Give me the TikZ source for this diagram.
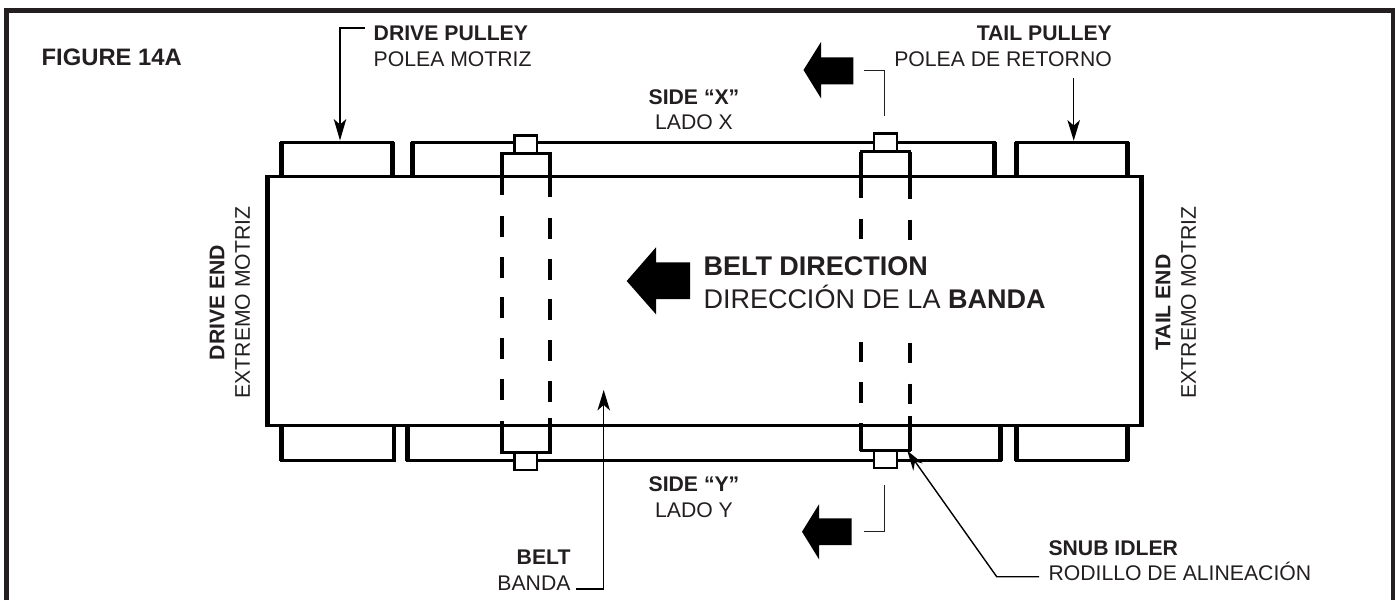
\documentclass[tikz,border=0pt]{standalone}
\usepackage{fontspec}
\setmainfont{Liberation Sans}
\definecolor{ink}{HTML}{231F20}
\tikzset{
 hline/.style={line width=3pt,draw=black,line join=miter},
 wall/.style={line width=4.6pt,draw=black},
 dashline/.style={line width=4pt,draw=black},
 capbox/.style={line width=2.6pt,draw=black,fill=white,line join=miter},
 idlerbox/.style={line width=3pt,draw=black,fill=white,line join=miter},
 leader/.style={line width=1.4pt,draw=black},
 lbl/.style={text=ink,font=\fontsize{21.2}{25.5}\selectfont,inner sep=0pt,align=left},
 bigl/.style={text=ink,font=\fontsize{27}{32.7}\selectfont,inner sep=0pt,align=left},
}
\newcommand{\pulleytop}[2]{%
 \draw[hline] (#1,176) -- (#1,142.7) -- (#2,142.7) -- (#2,176);
 \draw[wall] (#1,142) -- (#1,176); \draw[wall] (#2,142) -- (#2,176);}
\newcommand{\pulleybot}[2]{%
 \draw[hline] (#1,426) -- (#1,460) -- (#2,460) -- (#2,426);
 \draw[wall] (#1,426) -- (#1,461); \draw[wall] (#2,426) -- (#2,461);}
\begin{document}
\begin{tikzpicture}[x=1pt,y=-1pt]
\useasboundingbox (0,0) rectangle (1395,600);
\draw[line width=5pt,draw=ink,line join=miter] (6.5,600) -- (6.5,10) -- (1393,10) -- (1393,600);
% pulleys
\pulleytop{281.5}{392.3}
\pulleytop{412.3}{994.3}
\pulleytop{1016.7}{1127.2}
\pulleybot{281.5}{394}
\pulleybot{407.7}{1000.5}
\pulleybot{1016.7}{1127.2}
% idlers: caps, boxes
\draw[capbox] (514.5,153) rectangle (537,135.5);
\draw[capbox] (514.5,452) rectangle (537,470);
\draw[capbox] (874,151.5) rectangle (897,133.5);
\draw[capbox] (874,451) rectangle (897,468);
\draw[idlerbox] (501.5,177) -- (501.5,153.3) -- (550,153.3) -- (550,177);
\draw[idlerbox] (501.5,425) -- (501.5,452) -- (550,452) -- (550,425);
\draw[idlerbox] (861.3,177) -- (861.3,151.5) -- (909.7,151.5) -- (909.7,177);
\draw[idlerbox] (861.3,425) -- (861.3,450.7) -- (909.7,450.7) -- (909.7,425);
% dashed edges
\draw[dashline] (501.5,153) -- (501.5,195);
\foreach \y in {216,257,297,338,379}{\draw[dashline] (501.5,\y) -- (501.5,\y+20.5);}
\draw[dashline] (501.5,421) -- (501.5,452);
\draw[dashline] (550,153) -- (550,197);
\foreach \y in {218,259,299,340,381}{\draw[dashline] (550,\y) -- (550,\y+20.5);}
\draw[dashline] (550,418) -- (550,452);
\draw[dashline] (861.3,152) -- (861.3,198);
\foreach \y in {218.5,341.5,382}{\draw[dashline] (861.3,\y) -- (861.3,\y+20.5);}
\draw[dashline] (861.3,423) -- (861.3,451);
\draw[dashline] (909.7,152) -- (909.7,199);
\foreach \y in {219.5,342.5,383.5}{\draw[dashline] (909.7,\y) -- (909.7,\y+20.5);}
\draw[dashline] (909.7,416) -- (909.7,451);
% belt
\draw[hline] (265,176.7) -- (1143.5,176.7);
\draw[hline] (265,425.3) -- (1143.5,425.3);
\draw[line width=5pt] (267.5,175.2) -- (267.5,426.8);
\draw[line width=5pt] (1141.3,175.2) -- (1141.3,426.8);
% block arrows
\fill (690,262.3) -- (656,262.3) -- (656,247.3) -- (626.7,281) -- (656,314.3) -- (656,299) -- (690,299) -- cycle;
\fill (853.3,57.3) -- (821,57.3) -- (821,42) -- (803.5,70) -- (821,98.3) -- (821,84.3) -- (853.3,84.3) -- cycle;
\fill (851.7,518.3) -- (819,518.3) -- (819,504.3) -- (802,531.7) -- (819,559.3) -- (819,545) -- (851.7,545) -- cycle;
% section marks
\coordinate (xa) at (864,70.7); \coordinate (xb) at (884.7,70.7); \coordinate (xc) at (884.7,115.7);
\draw[leader,draw=ink] (xa) -- (xb) -- (xc);
\coordinate (ya) at (864,531.7); \coordinate (yb) at (884.7,531.7); \coordinate (yc) at (884.7,485.3);
\draw[leader,draw=ink] (ya) -- (yb) -- (yc);
% labels
\node[lbl,font=\fontsize{23.8}{28}\selectfont,anchor=base west] (fig) at (41.5,65) {\textbf{FIGURE 14A}};
\node[lbl,anchor=north west] (dp) at (373.5,26) {\textbf{DRIVE PULLEY}\\POLEA MOTRIZ};
\node[lbl,anchor=north east,align=right] (tp) at (1112,26) {\textbf{TAIL PULLEY}\\POLEA DE RETORNO};
\node[lbl,anchor=north,align=center] (sx) at (694,89.3) {\textbf{SIDE “X”}\\LADO X};
\node[lbl,anchor=north,align=center] (sy) at (694,476.7) {\textbf{SIDE “Y”}\\LADO Y};
\node[lbl,anchor=north east,align=right] (bl) at (570.7,550) {\textbf{BELT}\\BANDA};
\node[lbl,anchor=north west] (si) at (1048.3,540) {\textbf{SNUB IDLER}\\RODILLO DE ALINEACIÓN};
\node[lbl,rotate=90,align=center] (de) at (230,302.5) {\textbf{DRIVE END}\\EXTREMO MOTRIZ};
\node[lbl,rotate=90,align=center] (te) at (1176,302.5) {\textbf{TAIL END}\\EXTREMO MOTRIZ};
\node[bigl,anchor=north west] (bd) at (703.3,256.4) {\textbf{BELT DIRECTION}\\DIRECCIÓN DE LA \textbf{BANDA}};
% leader arrows
\draw[leader] (364.7,28) -- (340,28) -- (340,126);
\fill (340,140.5) -- (333.7,119) -- (340,124.5) -- (346.3,119) -- cycle;
\draw[leader] (1073.7,78.3) -- (1073.7,126);
\fill (1073.7,140.7) -- (1067.4,120) -- (1073.7,125.5) -- (1080,120) -- cycle;
\draw[leader] (576,589) -- (603.7,589) -- (603.7,405);
\fill (603.7,390) -- (597.4,410.5) -- (603.7,405) -- (610,410.5) -- cycle;
\draw[leader] (1039,576.7) -- (996.7,576.7) -- (914,460);
\fill (907.3,450.7) -- (922.7,463.3) -- (915,461.7) -- (913.3,470.7) -- cycle;
\end{tikzpicture}
\end{document}
